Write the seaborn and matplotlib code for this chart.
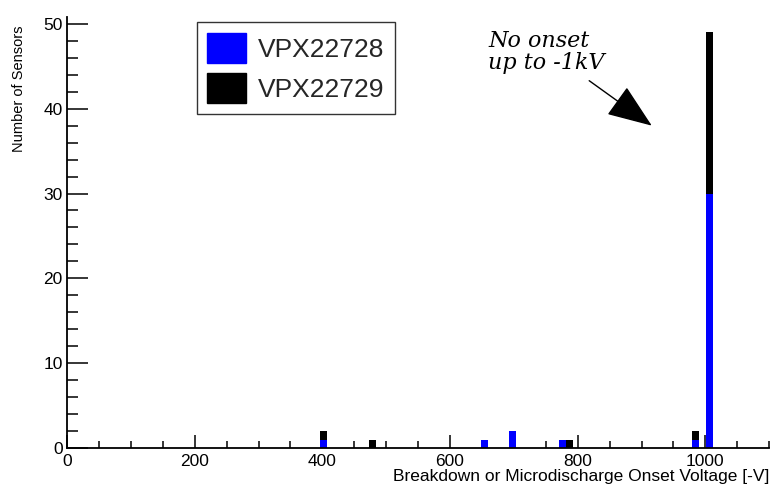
import numpy as np
import pandas as pd
import seaborn as sns
import matplotlib
matplotlib.use("Agg")
import matplotlib.pyplot as plt
from matplotlib.patches import Patch
from matplotlib.ticker import MultipleLocator

# ---- data ----
sensors = ["VPX22728", "VPX22729"]
volt_28 = [400, 650, 700, 775, 985, 1005]
count_28 = [1, 1, 2, 1, 1, 30]
volt_29 = [400, 475, 785, 985, 1005]
count_29 = [1, 1, 1, 1, 19]
colors = {"VPX22728": "#0000ff", "VPX22729": "#000000"}
x_ticks = [0, 200, 400, 600, 800, 1000]
y_ticks = [0, 10, 20, 30, 40, 50]

df = pd.DataFrame({
    "voltage": volt_28 + volt_29,
    "count": count_28 + count_29,
    "sensor": [sensors[0]] * len(volt_28) + [sensors[1]] * len(volt_29),
})

sns.set_theme(style="white")
plt.rcParams["font.family"] = ["Liberation Sans", "DejaVu Sans"]

fig = plt.figure(figsize=(7.7, 4.88), dpi=100)
ax = fig.add_axes([0.087, 0.082, 0.912, 0.883])

sns.histplot(data=df, x="voltage", weights="count", hue="sensor",
             hue_order=[sensors[1], sensors[0]], palette=colors,
             multiple="stack", binwidth=11, binrange=(0, 1100),
             element="bars", fill=True,
             alpha=1, linewidth=0, legend=False, ax=ax)

ax.set_xlim(0, 1100)
ax.set_ylim(0, 50.8)
ax.set_xticks(x_ticks)
ax.set_yticks(y_ticks)
ax.xaxis.set_minor_locator(MultipleLocator(50))
ax.yaxis.set_minor_locator(MultipleLocator(2))
ax.tick_params(axis="x", which="major", direction="in", length=9.5, width=1.1,
               labelsize=12.5, pad=4, color="black", labelcolor="black")
ax.tick_params(axis="x", which="minor", direction="in", length=5, width=1.1, color="black")
ax.tick_params(axis="y", which="major", direction="in", length=15, width=1.1,
               labelsize=12.5, pad=3, color="black", labelcolor="black")
ax.tick_params(axis="y", which="minor", direction="in", length=8, width=1.1, color="black")
ax.tick_params(bottom=True, left=True, which="both")

for s in ["top", "right"]:
    ax.spines[s].set_visible(False)
for s in ["left", "bottom"]:
    ax.spines[s].set_color("black")
    ax.spines[s].set_linewidth(1.3)

ax.set_xlabel("Breakdown or Microdischarge Onset Voltage [-V]", fontsize=12.5,
              loc="right", labelpad=0, color="black")
ax.set_ylabel("Number of Sensors", fontsize=10.5, color="black")
ax.yaxis.set_label_coords(-0.078, 0.981)
ax.yaxis.label.set_va("top")
ax.yaxis.label.set_ha("right")

handles = [Patch(facecolor=colors[s], edgecolor=colors[s]) for s in sensors]
leg = ax.legend(handles, sensors, loc="upper left", bbox_to_anchor=(0.185, 0.988),
                fontsize=19, frameon=True, fancybox=False, shadow=False,
                handlelength=1.45, handleheight=1.4, handletextpad=0.45,
                borderpad=0.4, labelspacing=0.35, borderaxespad=0)
leg.get_frame().set_edgecolor("black")
leg.get_frame().set_linewidth(1.0)

ax.text(660, 49.3, "No onset\nup to -1kV", fontsize=16, style="italic",
        family=["DejaVu Serif"], va="top", ha="left",
        linespacing=1.0, color="black")
ax.annotate("", xy=(916, 38.0), xytext=(818, 43.3),
            arrowprops=dict(arrowstyle="-|>,head_length=1.3,head_width=0.5",
                            mutation_scale=22, lw=1.0, color="black",
                            shrinkA=0, shrinkB=0))

fig.savefig("out.png", dpi=100, facecolor="white")
